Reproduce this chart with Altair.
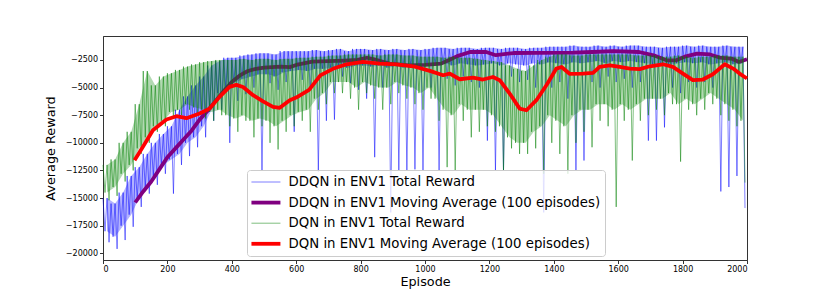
import altair as alt
import pandas as pd

# ---------------- data ----------------
BIN_START = list(range(0, 2000, 25))

# per 25-episode bin: top of the noisy band, typical bottom of the band, deepest dip
DDQN_HI = [-15000, -15500, -14500, -13000, -12200, -11000, -10000, -9200, -8500, -7000,
           -5800, -4800, -4000, -3000, -2600, -2300, -2300, -2100, -2000, -1900,
           -1900, -2000, -1700, -1700, -1700, -1700, -1600, -1700, -1600, -1500,
           -1700, -1500, -1500, -1600, -1500, -1600, -1500, -1600, -1500, -1600,
           -1500, -1400, -1400, -1500, -1400, -1400, -1500, -1400, -1400, -1500,
           -1400, -1400, -1500, -1400, -1400, -1300, -1300, -1300, -1200, -1300,
           -1300, -1200, -1300, -1200, -1300, -1200, -1200, -1300, -1300, -1400,
           -1300, -1300, -1200, -1300, -1200, -1300, -1300, -1200, -1300, -1300]
DDQN_BAND = [-18000, -18500, -17500, -16500, -15000, -14000, -13000, -12000, -11500, -11000,
             -10000, -9500, -8500, -7000, -5500, -5000, -4500, -4200, -4000, -3800,
             -3800, -4000, -3600, -3500, -3400, -3500, -3300, -3300, -3200, -3000,
             -3200, -3000, -3000, -3100, -3000, -3200, -3000, -3200, -3000, -3100,
             -3000, -2900, -2800, -3000, -2800, -2900, -3000, -2900, -2800, -3000,
             -2800, -2900, -3000, -2800, -2900, -2700, -2800, -2900, -2700, -2800,
             -2700, -2600, -2800, -2600, -2700, -2600, -2700, -2800, -2900, -3000,
             -2900, -2800, -2700, -2800, -2700, -2900, -2800, -2700, -2900, -2800]
DDQN_LO = [-19000, -19600, -18800, -17600, -15800, -14600, -13800, -12800, -14600, -12000,
           -11200, -10400, -9500, -8000, -7000, -10000, -6200, -5600, -5000, -12500,
           -4600, -5200, -4500, -9000, -4300, -5200, -12600, -8000, -7900, -4000,
           -4600, -5200, -6000, -11300, -5000, -16300, -12500, -12500, -12400, -12500,
           -5000, -12500, -4200, -4800, -4000, -4500, -5000, -9800, -12500, -12500,
           -4000, -4500, -4300, -5000, -16300, -5000, -4500, -6000, -12500, -11600,
           -4500, -5000, -4000, -4500, -4200, -5000, -4500, -9800, -9800, -8600,
           -5000, -5500, -4500, -5000, -4500, -5000, -14400, -14000, -13000, -15900]

DQN_HI = [-12000, -11500, -10000, -9000, -6500, -3500, -4800, -4000, -3700, -3400,
          -3100, -2900, -2700, -2600, -2500, -2500, -2500, -2400, -2500, -2400,
          -2400, -2500, -2400, -2400, -2300, -2300, -2200, -2200, -2100, -2100,
          -2000, -2000, -2000, -2000, -2100, -2000, -2000, -2100, -2100, -2200,
          -2200, -2200, -2300, -2200, -2300, -2300, -2400, -2500, -2600, -2700,
          -3000, -3300, -3500, -3000, -2500, -2200, -2000, -2000, -2100, -2100,
          -2000, -2000, -2000, -2000, -2000, -2000, -2100, -2100, -2100, -2200,
          -2200, -2100, -2200, -2300, -2200, -2200, -2100, -2100, -2200, -2200]
DQN_BAND = [-14500, -14000, -12800, -12000, -10500, -9500, -8500, -8000, -7200, -7000,
            -6500, -6800, -7000, -7200, -7000, -7500, -7800, -7500, -8000, -7800,
            -8000, -8500, -8000, -7500, -7200, -7000, -6000, -5500, -4500, -4500,
            -4500, -5000, -4500, -4800, -5000, -5000, -4500, -4800, -5000, -5500,
            -5000, -6000, -7000, -7500, -6500, -7000, -7000, -7000, -7500, -8500,
            -9500, -10000, -10000, -9000, -8500, -7500, -8000, -8500, -7500, -7000,
            -7000, -6500, -6500, -7000, -6500, -7000, -6500, -6000, -6000, -6000,
            -5500, -6500, -6000, -6500, -6000, -5500, -6000, -6500, -7000, -8000]
DQN_LO = [-15200, -14800, -13500, -12500, -11000, -10000, -9000, -8500, -7800, -7500,
          -7000, -7500, -7800, -8000, -7500, -8500, -9000, -8000, -9500, -8500,
          -10000, -10600, -9000, -8500, -8000, -9000, -7000, -6500, -5500, -5500,
          -6000, -7000, -5500, -6000, -7000, -6500, -5500, -6000, -6500, -7000,
          -6000, -8000, -12200, -12500, -8000, -9500, -9000, -8500, -9000, -12500,
          -10500, -11000, -11000, -10500, -12800, -10000, -11000, -12800, -10000, -9000,
          -10400, -8000, -8500, -15800, -8000, -11600, -8000, -7500, -7000, -7500,
          -6500, -11700, -7000, -7500, -7000, -6500, -7500, -8000, -8500, -13600]

DDQN_MA_EP = [100, 125, 150, 175, 200, 225, 250, 275, 300, 325, 350, 375, 400, 425, 450,
              475, 500, 550, 580, 600, 650, 700, 750, 790, 820, 850, 890, 950, 1000, 1050,
              1075, 1100, 1140, 1190, 1220, 1275, 1350, 1460, 1520, 1585, 1665, 1710, 1750,
              1780, 1810, 1845, 1885, 1915, 1955, 1975, 2000]
DDQN_MA = [-15400, -14400, -13500, -12400, -11300, -10500, -9700, -8900, -7900, -7100, -6200,
           -5300, -4500, -3900, -3500, -3300, -3200, -3100, -3150, -2950, -2650, -2600, -2550,
           -2500, -2300, -2500, -2830, -2980, -2950, -2830, -2500, -2150, -1780, -1780, -2070,
           -1870, -1850, -1830, -1780, -1690, -1780, -2080, -2530, -2530, -2170, -1920, -2000,
           -2280, -2410, -2680, -2440]

DQN_MA_EP = [98, 124, 155, 197, 228, 259, 300, 331, 362, 393, 414, 435, 466, 497, 528, 549,
             580, 600, 640, 675, 714, 756, 808, 859, 911, 963, 1015, 1056, 1077, 1108, 1149,
             1180, 1211, 1232, 1263, 1294, 1315, 1346, 1377, 1408, 1424, 1449, 1490, 1522,
             1542, 1574, 1605, 1636, 1667, 1698, 1739, 1770, 1801, 1832, 1863, 1894, 1931,
             1957, 1977, 2000]
DQN_MA = [-11570, -10360, -8855, -7890, -7590, -7770, -7350, -6900, -5840, -4940, -4750,
          -4950, -5690, -6250, -6750, -6830, -6140, -5900, -5200, -3900, -3300, -2890, -2680,
          -2830, -2890, -3070, -3490, -3880, -3730, -4245, -4090, -4270, -4040, -4330, -5540,
          -6900, -7050, -6140, -4790, -3280, -3130, -3750, -3730, -3670, -3130, -2980, -3130,
          -3280, -3330, -3070, -2890, -3130, -3730, -4330, -4270, -3790, -2890, -3280, -3730,
          -4180]

SERIES = ["DDQN in ENV1 Total Reward",
          "DDQN in ENV1 Moving Average (100 episodes)",
          "DQN in ENV1 Total Reward",
          "DQN in ENV1 Moving Average (100 episodes)"]
COLORS = ["#0000ff", "#800080", "#008000", "#ff0000"]
WIDTHS = [1, 3.8, 1, 3.8]
OPACITIES = [0.5, 1, 0.5, 1]

X_TICKS = list(range(0, 2001, 200))
Y_TICKS = list(range(-20000, -2499, 2500))

FONT = "DejaVu Sans"


def raw_df(hi, band, lo, name):
    rows = []
    for b, h, m, l in zip(BIN_START, hi, band, lo):
        rows.append({"episode": b, "reward": h, "series": name})
        rows.append({"episode": b + 6.25, "reward": m, "series": name})
        rows.append({"episode": b + 12.5, "reward": h, "series": name})
        rows.append({"episode": b + 18.75, "reward": l, "series": name})
    return pd.DataFrame(rows)


def band_df(hi, band):
    return pd.DataFrame({"episode": [b + 12.5 for b in BIN_START], "reward": hi, "bottom": band})


def ma_df(eps, vals, name):
    return pd.DataFrame({"episode": eps, "reward": vals, "series": name})


x_scale = alt.Scale(domain=[0, 2000], nice=False, zero=False)
y_scale = alt.Scale(domain=[-20605, -330], nice=False, zero=False)
x_axis = alt.Axis(values=X_TICKS, format="d", title="Episode")
y_axis = alt.Axis(values=Y_TICKS, format="d", title="Average Reward")
x_enc = alt.X("episode:Q", scale=x_scale, axis=x_axis)
y_enc = alt.Y("reward:Q", scale=y_scale, axis=y_axis)
color_enc = alt.Color("series:N",
                      scale=alt.Scale(domain=SERIES, range=COLORS),
                      legend=alt.Legend(title=None, orient="none", legendX=144, legendY=134,
                                        symbolType="M-1.25,0L2.75,0", symbolSize=210,
                                        labelFontSize=13.3, labelFont=FONT, labelColor="#000",
                                        labelOffset=18.5, rowPadding=4.1, padding=4,
                                        fillColor="rgba(255,255,255,0.8)",
                                        strokeColor="#cccccc", cornerRadius=3,
                                        labelLimit=400))
sw_enc = alt.StrokeWidth("series:N",
                         scale=alt.Scale(type="ordinal", domain=SERIES, range=WIDTHS),
                         title=None)
op_enc = alt.Opacity("series:N",
                     scale=alt.Scale(type="ordinal", domain=SERIES, range=OPACITIES),
                     title=None)


def line_layer(df):
    return alt.Chart(df).mark_line(strokeJoin="round", strokeCap="butt").encode(
        x=x_enc, y=y_enc, color=color_enc, strokeWidth=sw_enc, opacity=op_enc,
        order=alt.Order("episode:Q"))


def band_layer(df, color):
    return alt.Chart(df).mark_area(opacity=0.3, color=color).encode(
        x=x_enc, y=y_enc, y2="bottom:Q")


chart = alt.layer(
    band_layer(band_df(DDQN_HI, DDQN_BAND), COLORS[0]),
    line_layer(raw_df(DDQN_HI, DDQN_BAND, DDQN_LO, SERIES[0])),
    line_layer(ma_df(DDQN_MA_EP, DDQN_MA, SERIES[1])),
    band_layer(band_df(DQN_HI, DQN_BAND), COLORS[2]),
    line_layer(raw_df(DQN_HI, DQN_BAND, DQN_LO, SERIES[2])),
    line_layer(ma_df(DQN_MA_EP, DQN_MA, SERIES[3])),
).properties(
    width=644, height=224,
    autosize=alt.AutoSizeParams(type="none"),
    padding={"left": 95, "top": 28, "right": 75, "bottom": 29},
).configure(
    background="white"
).configure_view(
    stroke="#333333", strokeWidth=1
).configure_axis(
    grid=False, domainColor="#333333", tickColor="#333333", tickSize=3.5,
    labelFont=FONT, labelFontSize=8, labelColor="#000000", labelOverlap=False,
    titleFont=FONT, titleFontSize=12.8, titleFontWeight="normal", titleColor="#000000",
).configure_axisX(
    labelPadding=1.5, titlePadding=2.5
).configure_axisY(
    labelPadding=2, titlePadding=8
)

chart.save("out.html", embed_options={"renderer": "svg", "actions": False})
